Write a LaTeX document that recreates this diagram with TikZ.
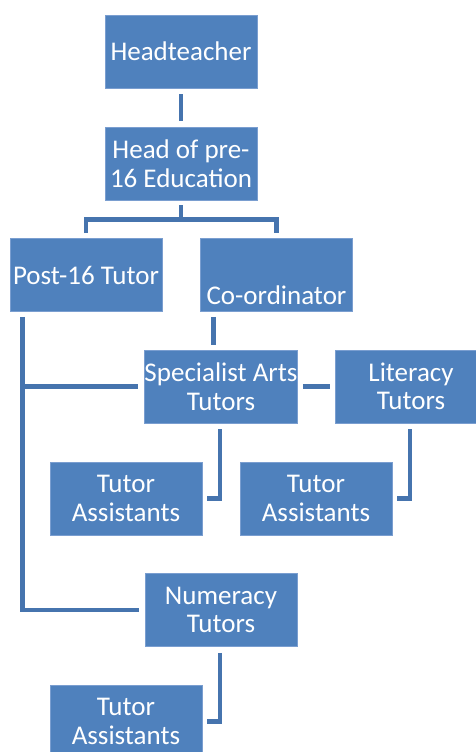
\documentclass[tikz,border=0pt]{standalone}
\usepackage{fontspec}
\setmainfont{Carlito}
\usetikzlibrary{calc}
\definecolor{boxfill}{HTML}{4F81BD}
\definecolor{boxedge}{HTML}{7A9ED0}
\definecolor{linkcol}{HTML}{4674AE}
\tikzset{
  boxfont/.style={font=\fontsize{27}{28.5}\selectfont},
  orgbox/.style={rectangle, fill=boxfill, draw=boxedge, line width=0.7pt,
    minimum width=152pt, minimum height=73pt, inner sep=0pt,
    text=white, align=center, boxfont},
  link/.style={draw=linkcol, line width=4.8pt, line join=miter, line cap=butt}
}
\begin{document}
\begin{tikzpicture}[x=1pt,y=-1pt]
  \useasboundingbox (0,0) rectangle (476,752);
  \clip (0,0) rectangle (476,752);

  % boxes (centres)
  \node[orgbox] (head)  at (181,51.5)  {Headteacher};
  \node[orgbox] (pre)   at (181,163.5) {Head of pre-\\16 Education};
  \node[orgbox] (post)  at (86,275)    {Post-16 Tutor};
  \node[orgbox, label={[text=white, boxfont, yshift=-20pt]center:Co-ordinator}]
                (coord) at (276.5,275) {};
  \node[orgbox] (spec)  at (221,386.5) {Specialist Arts\\Tutors};
  \node[orgbox] (lit)   at (411,386.5) {Literacy\\Tutors};
  \node[orgbox] (ta1)   at (126,498.5) {Tutor\\Assistants};
  \node[orgbox] (ta2)   at (316,498.5) {Tutor\\Assistants};
  \node[orgbox] (num)   at (221,610)   {Numeracy\\Tutors};
  \node[orgbox] (ta3)   at (126,721.5) {Tutor\\Assistants};

  % trunk running down the left side from the post-16 tutor
  \coordinate (trunk) at ($(post.south west)+(13,5)$);

  % connectors
  \draw[link] ($(head.south)+(0,6)$) -- ($(pre.north)+(0,-6)$);
  \draw[link] ($(pre.south)+(0,5)$) -- ($(pre.south)+(0,19)$);
  \draw[link] ($(post.north)+(0,-5)$) |- ($(pre.south)+(0,19)$) -| ($(coord.north)+(0,-5)$);
  \draw[link] ($(coord.south west)+(13,5)$) -- ($(coord.south west)+(13,33)$);
  \draw[link] ($(spec.east)+(5,0)$) -- ($(lit.west)+(-5,0)$);
  \draw[link] (trunk) |- ($(num.west)+(-6,0)$);
  \draw[link] (trunk |- spec.west) -- ($(spec.west)+(-6,0)$);
  \draw[link] ($(spec.south)+(-1,6)$) |- ($(ta1.east)+(5,0)$);
  \draw[link] ($(lit.south)+(-1,6)$) |- ($(ta2.east)+(5,0)$);
  \draw[link] ($(num.south)+(-1,6)$) |- ($(ta3.east)+(5,0)$);
\end{tikzpicture}
\end{document}
